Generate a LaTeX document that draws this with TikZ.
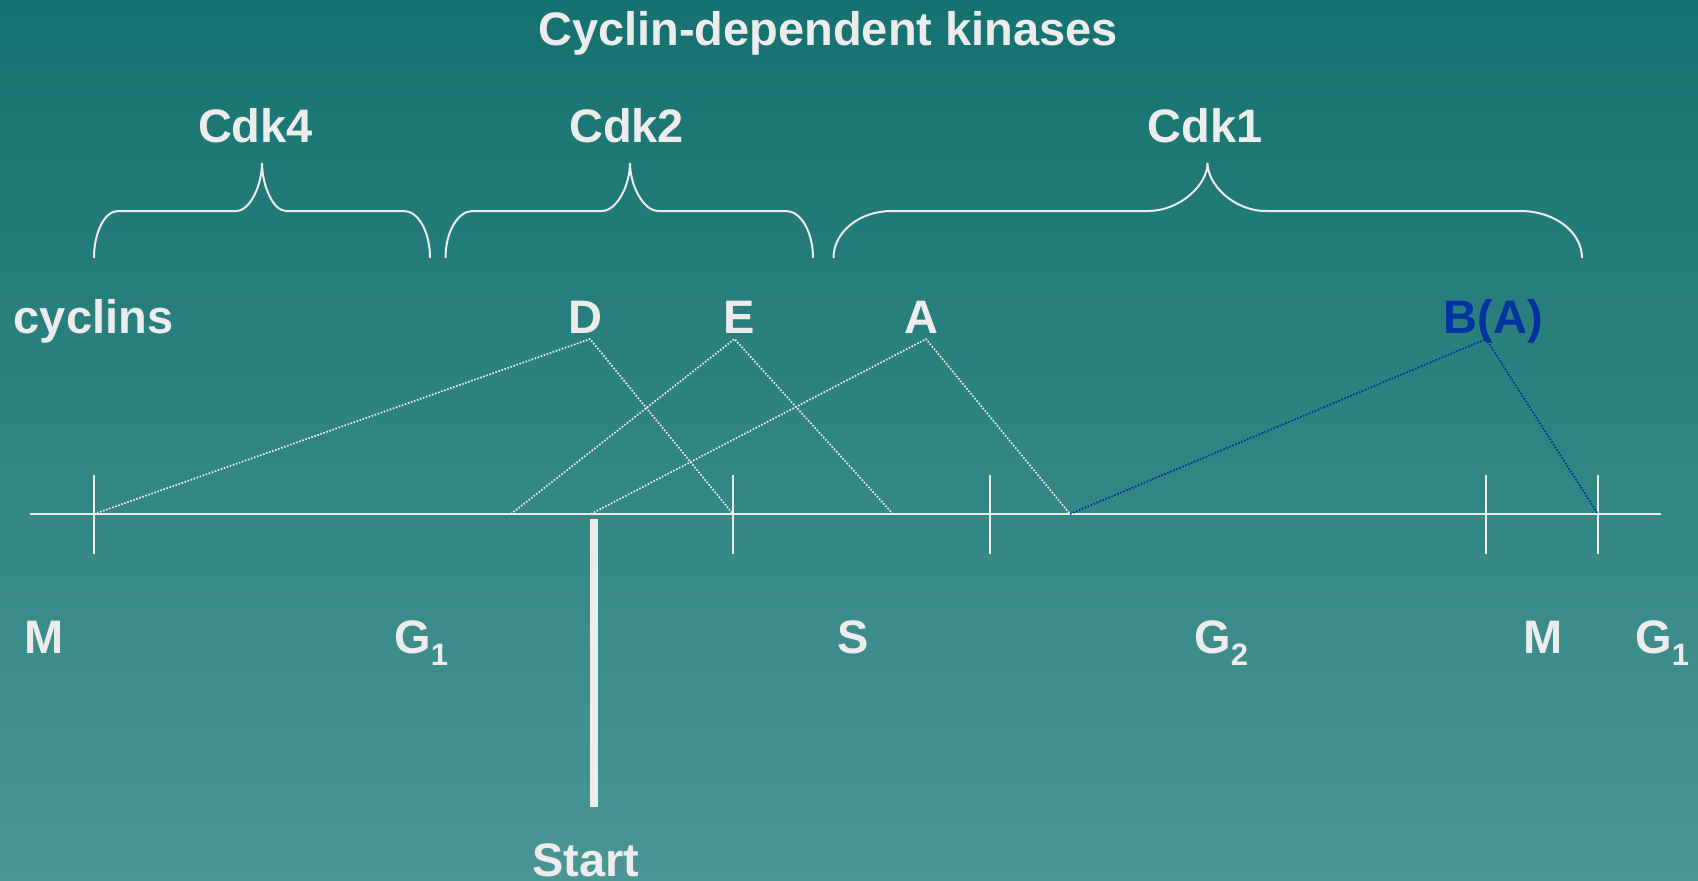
\documentclass[tikz,border=0pt]{standalone}
\usepackage{fontspec}
\setmainfont{Liberation Sans}
\definecolor{bgtop}{RGB}{21,114,112}
\definecolor{bgbot}{RGB}{74,150,148}
\definecolor{txt}{RGB}{236,236,236}
\definecolor{cycblue}{RGB}{0,51,160}
\tikzset{
  lbl/.style={inner sep=0pt, anchor=base, text=txt, font=\bfseries\fontsize{47}{56}\selectfont},
  brace/.style={draw=txt, line width=2pt},
  tline/.style={draw=txt, line width=2.5pt},
  tick/.style={draw=txt, line width=2pt},
  dotline/.style={draw=txt, line width=1.7pt, dash pattern=on 1.6pt off 1.6pt},
  blueline/.style={draw=cycblue, line width=1.7pt, dash pattern=on 1.6pt off 1.6pt},
}
\newcommand{\subs}[1]{\raisebox{-12pt}{\fontsize{31}{31}\selectfont #1}}
\begin{document}
\begin{tikzpicture}[x=1pt,y=-1pt]
\shade[top color=bgtop, bottom color=bgbot] (0,0) rectangle (1698,881);
\useasboundingbox (0,0) rectangle (1698,881);

% texts
\node[lbl] (title) at (828,45) {Cyclin-dependent kinases};
\node[lbl] (cdk4) at (255.5,142) {Cdk4};
\node[lbl] (cdk2) at (626.6,142) {Cdk2};
\node[lbl] (cdk1) at (1205,142) {Cdk1};
\node[lbl] (cyclins) at (93.5,333) {cyclins};
\node[lbl] (D) at (585,333) {D};
\node[lbl] (E) at (739,333) {E};
\node[lbl] (A) at (921,333) {A};
\node[lbl, text=cycblue] (B) at (1493.5,333) {B(A)};
\node[lbl] (M1) at (44,653) {M};
\node[lbl, anchor=base west] (G1a) at (394,653) {G\subs{1}};
\node[lbl] (S) at (853,653) {S};
\node[lbl, anchor=base west] (G2) at (1194,653) {G\subs{2}};
\node[lbl] (M2) at (1543.5,653) {M};
\node[lbl, anchor=base west] (G1b) at (1635,653) {G\subs{1}};
\node[lbl] (start) at (586,876) {Start};

% braces
\path[brace] (94,258) .. controls (94,232) and (104.8,211) .. (118,211) -- (236,211)
  .. controls (250.4,211) and (262,184.5) .. (262,163)
  .. controls (262,184.5) and (272.8,211) .. (286,211) -- (404,211)
  .. controls (418.4,211) and (430,232) .. (430,258);
\path[brace] (445.5,258) .. controls (445.5,232) and (457.7,211) .. (472.6,211) -- (601.6,211)
  .. controls (617.3,211) and (630,184.5) .. (630,163)
  .. controls (630,184.5) and (642.8,211) .. (658.5,211) -- (786,211)
  .. controls (800.9,211) and (813,232) .. (813,258);
\path[brace] (833.5,258) .. controls (833.5,232) and (859.5,211) .. (891.5,211) -- (1147.5,211)
  .. controls (1180.6,211) and (1207.5,184.5) .. (1207.5,163)
  .. controls (1207.5,184.5) and (1233.7,211) .. (1266,211) -- (1520.6,211)
  .. controls (1554.5,211) and (1582,232) .. (1582,258);

% timeline
\coordinate (tl0) at (30,514);
\coordinate (tl1) at (1661,514);
\path[tline] (tl0) -- (tl1);
\foreach \x/\n in {94/t1,733/t2,990/t3,1486/t4,1598/t5}{
  \coordinate (\n top) at (\x,475);
  \coordinate (\n bot) at (\x,554);
  \path[tick] (\n top) -- (\n bot);
}

% apexes and feet
\coordinate (Dap) at (590,339);
\coordinate (Eap) at (734.5,339);
\coordinate (Aap) at (926,339);
\coordinate (Bap) at (1486,339);
\coordinate (Dl) at (94,514);
\coordinate (Dr) at (733,514);
\coordinate (El) at (511,514);
\coordinate (Er) at (893,514);
\coordinate (Al) at (591,514);
\coordinate (Ar) at (1070,514);
\coordinate (Bl) at (1070,514);
\coordinate (Br) at (1598,514);
\path[dotline] (Dl) -- (Dap) -- (Dr);
\path[dotline] (El) -- (Eap) -- (Er);
\path[dotline] (Al) -- (Aap) -- (Ar);
\path[blueline] (Bl) -- (Bap) -- (Br);

% start bar
\coordinate (st0) at (594,519);
\coordinate (st1) at (594,807);
\draw[txt, line width=8pt] (st0) -- (st1);
\end{tikzpicture}
\end{document}
